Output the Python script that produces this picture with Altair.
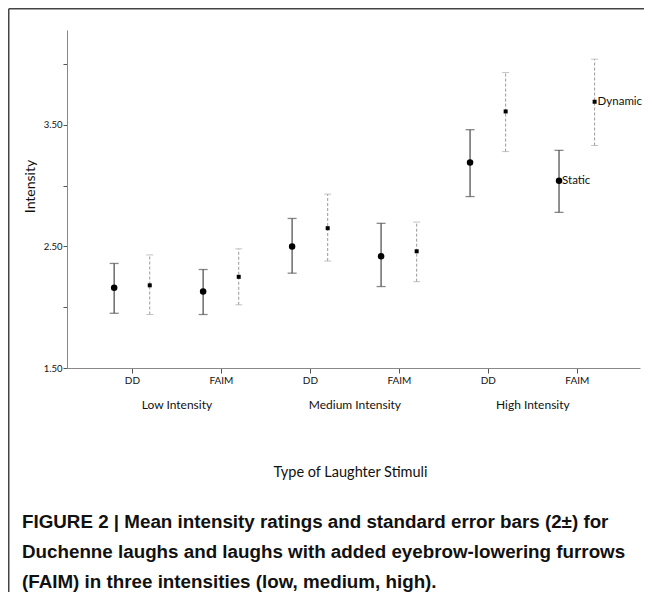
import altair as alt
import pandas as pd

intensities = ["Low Intensity", "Medium Intensity", "High Intensity"]
types = ["DD", "FAIM"]
series_names = ["Static", "Dynamic"]

static_mean = [2.16, 2.13, 2.50, 2.42, 3.19, 3.04]
static_low = [1.95, 1.94, 2.28, 2.17, 2.91, 2.78]
static_high = [2.36, 2.31, 2.73, 2.69, 3.46, 3.29]
dynamic_mean = [2.18, 2.25, 2.65, 2.46, 3.61, 3.69]
dynamic_low = [1.94, 2.02, 2.38, 2.21, 3.28, 3.33]
dynamic_high = [2.43, 2.48, 2.93, 2.70, 3.93, 4.04]

y_ticks = [1.5, 2.0, 2.5, 3.0, 3.5, 4.0]
caption = [
    "FIGURE 2 | Mean intensity ratings and standard error bars (2\u00b1) for",
    "Duchenne laughs and laughs with added eyebrow-lowering furrows",
    "(FAIM) in three intensities (low, medium, high).",
]

rows = []
for s, means, lows, highs in [
    ("Static", static_mean, static_low, static_high),
    ("Dynamic", dynamic_mean, dynamic_low, dynamic_high),
]:
    for i in range(6):
        rows.append({
            "ci": i,
            "type": types[i % 2],
            "intensity": intensities[i // 2],
            "series": s,
            "mean": means[i],
            "low": lows[i],
            "high": highs[i],
        })
df = pd.DataFrame(rows)

FONT = "Lato"
xscale = alt.Scale(domain=[-0.73, 5.71], nice=False, zero=False)
yscale = alt.Scale(domain=[1.5, 4.28], nice=False, zero=False)

base = alt.Chart(df).transform_calculate(
    xpos="datum.ci + (datum.series == 'Static' ? -0.2 : 0.2)"
)

main_x_axis = alt.Axis(
    values=[0, 1, 2, 3, 4, 5],
    labelExpr="datum.value % 2 == 0 ? 'DD' : 'FAIM'",
    title=None, grid=False, tickSize=5, labelFontSize=10, labelPadding=2,
    domainColor="#888888", tickColor="#555555", labelColor="#111111", labelFont=FONT,
)
group_x_axis = alt.Axis(
    values=[0.5, 2.5, 4.5],
    labelExpr="datum.value < 1 ? 'Low Intensity' : (datum.value < 3 ? 'Medium Intensity' : 'High Intensity')",
    orient="bottom", ticks=False, domain=False, grid=False,
    labelPadding=31, labelFontSize=12, labelFont=FONT, labelColor="#111111",
    title="Type of Laughter Stimuli", titleFont=FONT, titleFontSize=14.5,
    titleFontWeight="normal", titleColor="#111111",
    titleX=283, titleY=104, titleBaseline="middle",
)
y_axis = alt.Axis(
    values=y_ticks,
    labelExpr="(datum.value * 2) % 2 == 1 ? format(datum.value, '.2f') : ''",
    grid=False, tickSize=4, labelFontSize=9.5, labelPadding=1, labelFont=FONT,
    domainColor="#888888", tickColor="#555555", labelColor="#111111",
    title="Intensity", titleFont=FONT, titleFontSize=14, titleFontWeight="normal",
    titleColor="#111111", titleAngle=-90, titleX=-37, titleY=156, titleBaseline="middle",
)

static = base.transform_filter("datum.series == 'Static'")
dynamic = base.transform_filter("datum.series == 'Dynamic'")

static_rule = static.mark_rule(color="#555555", strokeWidth=1.3).encode(
    x=alt.X("xpos:Q", scale=xscale, axis=main_x_axis),
    y=alt.Y("low:Q", scale=yscale, axis=y_axis),
    y2="high:Q",
)
static_cap_lo = static.mark_tick(color="#555555", thickness=1.3, size=9, orient="horizontal").encode(
    x=alt.X("xpos:Q", scale=xscale, axis=None),
    y=alt.Y("low:Q", scale=yscale, axis=None),
)
static_cap_hi = static.mark_tick(color="#555555", thickness=1.3, size=9, orient="horizontal").encode(
    x=alt.X("xpos:Q", scale=xscale, axis=None),
    y=alt.Y("high:Q", scale=yscale, axis=None),
)
static_pts = static.mark_point(shape="circle", filled=True, color="black", size=42, opacity=1).encode(
    x=alt.X("xpos:Q", scale=xscale, axis=None),
    y=alt.Y("mean:Q", scale=yscale, axis=None),
)

dyn_rule = dynamic.mark_rule(color="#999999", strokeWidth=1, strokeDash=[3, 2]).encode(
    x=alt.X("xpos:Q", scale=xscale, axis=None),
    y=alt.Y("low:Q", scale=yscale, axis=None),
    y2="high:Q",
)
dyn_cap_lo = dynamic.mark_tick(color="#aaaaaa", thickness=1, size=7, orient="horizontal", strokeDash=[2, 2]).encode(
    x=alt.X("xpos:Q", scale=xscale, axis=None),
    y=alt.Y("low:Q", scale=yscale, axis=None),
)
dyn_cap_hi = dynamic.mark_tick(color="#aaaaaa", thickness=1, size=7, orient="horizontal", strokeDash=[2, 2]).encode(
    x=alt.X("xpos:Q", scale=xscale, axis=None),
    y=alt.Y("high:Q", scale=yscale, axis=None),
)
dyn_pts = dynamic.mark_square(filled=True, color="black", size=16, opacity=1).encode(
    x=alt.X("xpos:Q", scale=xscale, axis=group_x_axis),
    y=alt.Y("mean:Q", scale=yscale, axis=None),
)

labels = base.transform_filter("datum.ci == 5").mark_text(
    align="left", baseline="middle", dx=3, fontSize=11.5, font=FONT, color="#111111"
).encode(
    x=alt.X("xpos:Q", scale=xscale, axis=None),
    y=alt.Y("mean:Q", scale=yscale, axis=None),
    text="series:N",
)

frame_src = alt.Chart(alt.Data(values=[{"f": 1}]))
frame_left = frame_src.mark_rule(color="#444444", strokeWidth=1.5).encode(
    x=alt.value(-58.25), y=alt.value(-21.25), y2=alt.value(580)
)
frame_top = frame_src.mark_rule(color="#444444", strokeWidth=1.5).encode(
    x=alt.value(-58.25), x2=alt.value(700), y=alt.value(-21.25)
)

chart = alt.layer(
    frame_left, frame_top,
    static_rule, static_cap_lo, static_cap_hi,
    dyn_rule, dyn_cap_lo, dyn_cap_hi,
    static_pts, dyn_pts, labels,
).resolve_axis(x="independent", y="independent").properties(
    width=573,
    height=338,
    autosize=alt.AutoSizeParams(type="none"),
    padding={"left": 59, "top": 22, "right": 4, "bottom": 224},
    title=alt.TitleParams(
        text=caption, orient="bottom", anchor="start", frame="group",
        font="Liberation Sans, Arial, sans-serif", fontSize=18.8, fontWeight="bold",
        color="#111111", lineHeight=30, offset=-98, dx=-45,
    ),
).configure_view(stroke=None)

chart.save("out.html", embed_options={"renderer": "svg", "actions": False})
